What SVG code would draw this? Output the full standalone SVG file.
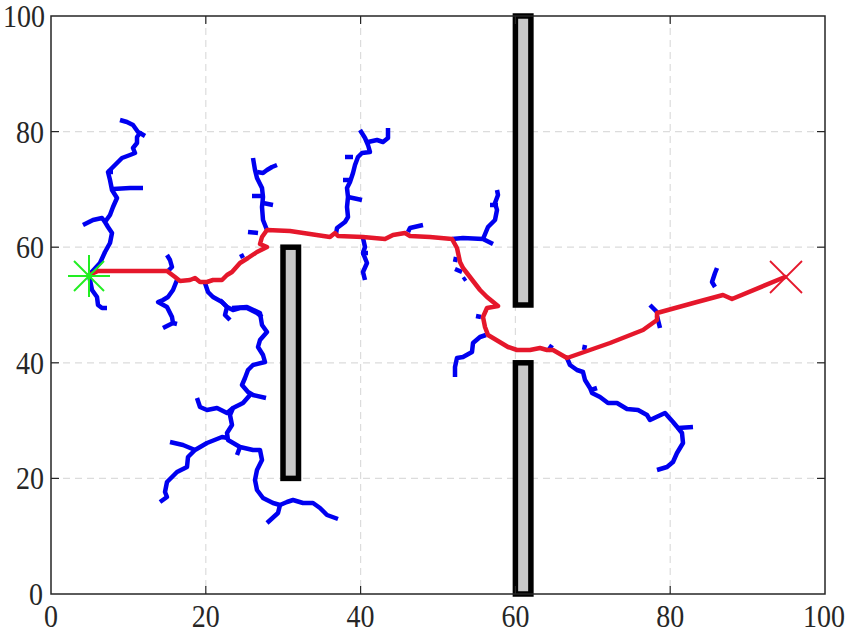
<svg xmlns="http://www.w3.org/2000/svg" width="846" height="633" viewBox="0 0 846 633">
<style>
.grid{stroke:#dcdcdc;stroke-width:1.2;stroke-dasharray:7,5;fill:none}
.ax{stroke:#262626;stroke-width:1.5;fill:none}
.tk{stroke:#262626;stroke-width:1.2}
.obs{fill:#c8c8c8;stroke:#000;stroke-width:5.5}
.tree{fill:none;stroke:#0000f0;stroke-width:4.5;stroke-linejoin:round;stroke-linecap:butt}
.path{fill:none;stroke:#e5172b;stroke-width:4.5;stroke-linejoin:round;stroke-linecap:round}
text{font-family:'Liberation Serif','Times New Roman',serif;font-size:28px;fill:#262626}
</style>
<rect width="846" height="633" fill="#fff"/>
<g id="grid">
<line class="grid" x1="205.8" y1="16" x2="205.8" y2="594"/>
<line class="grid" x1="360.6" y1="16" x2="360.6" y2="594"/>
<line class="grid" x1="515.4" y1="16" x2="515.4" y2="594"/>
<line class="grid" x1="670.2" y1="16" x2="670.2" y2="594"/>
<line class="grid" x1="51" y1="478.4" x2="825" y2="478.4"/>
<line class="grid" x1="51" y1="362.8" x2="825" y2="362.8"/>
<line class="grid" x1="51" y1="247.2" x2="825" y2="247.2"/>
<line class="grid" x1="51" y1="131.6" x2="825" y2="131.6"/>
</g>
<g id="tree">
<polyline class="tree" points="89,275 100,263 105,252 110,243 112,233 108,227 105,222 110,215 113,207 117,198 112,190 110,180 108,172 115,165 122,158 130,155 135,153 133,148 137,143 137,137 140,133 138,132 133,125 127,122 120,120"/>
<polyline class="tree" points="140,133 145,136"/>
<polyline class="tree" points="83,225 93,220 102,218 105,222"/>
<polyline class="tree" points="113,189 130,188 143,188"/>
<polyline class="tree" points="107,172 113,172"/>
<polyline class="tree" points="89,275 90,280 92,290 97,297 98,305 102,308 107,308"/>
<polyline class="tree" points="167,255 170,260 172,267 168,271"/>
<polyline class="tree" points="177,280 173,290 168,297 163,300 158,302 167,307 172,317 173,323 163,328"/>
<polyline class="tree" points="173,323 177,324"/>
<polyline class="tree" points="205,283 208,292 213,297 222,302 227,307 233,310 240,308 247,308 257,313 262,317"/>
<polyline class="tree" points="220,300 227,307 225,315 230,320"/>
<polyline class="tree" points="232,308 247,307 260,313 262,325 267,332 260,340 258,347 263,355 265,362 253,365 248,370 245,378 242,385 248,392 253,395 266,398"/>
<polyline class="tree" points="250,395 243,403 233,408 230,415 232,425 227,433 228,440 240,447 253,450 260,450 262,460 257,470 255,480 257,490 263,498 273,503 280,505 287,502 293,500 303,503 313,503 320,508 327,515 338,519"/>
<polyline class="tree" points="280,505 278,513 267,523"/>
<polyline class="tree" points="228,438 222,437 207,443 195,450 188,457 187,467 177,472 167,482 165,492 167,497 160,502"/>
<polyline class="tree" points="170,442 183,445 195,450"/>
<polyline class="tree" points="197,398 200,407 207,410 217,408 227,413 233,408"/>
<polyline class="tree" points="237,455 240,447"/>
<polyline class="tree" points="267,230 263,220 262,207 263,197 262,188 257,178 255,170 253,158"/>
<polyline class="tree" points="257,172 263,173 267,170 272,167 277,165"/>
<polyline class="tree" points="252,196 263,196"/>
<polyline class="tree" points="263,203 273,205"/>
<polyline class="tree" points="248,232 258,233"/>
<polyline class="tree" points="240,257 244,255"/>
<polyline class="tree" points="336,234 337,228 345,222 348,217 347,207 348,197 347,188 350,182 353,173 355,165 358,157 362,153 370,152 368,145 365,138 360,130"/>
<polyline class="tree" points="368,142 377,140 383,142 388,138 388,128"/>
<polyline class="tree" points="345,157 353,157"/>
<polyline class="tree" points="343,180 352,180"/>
<polyline class="tree" points="348,197 362,200"/>
<polyline class="tree" points="363,238 365,247 363,253 367,263 363,272 365,280"/>
<polyline class="tree" points="361,253 368,253"/>
<polyline class="tree" points="408,232 410,228 423,225"/>
<polyline class="tree" points="452,239 463,238 483,239 493,244"/>
<polyline class="tree" points="483,239 488,227 495,220 497,210 495,203 498,195 497,190"/>
<polyline class="tree" points="490,205 498,205"/>
<polyline class="tree" points="456,257 455,262"/>
<polyline class="tree" points="455,269 462,272"/>
<polyline class="tree" points="463,280 466,278"/>
<polyline class="tree" points="486,335 480,337 473,343 472,352 463,357 457,358 455,367 455,377"/>
<polyline class="tree" points="476,316 481,317"/>
<polyline class="tree" points="567,358 570,365 577,370 583,372 585,380 590,388 592,393 600,397 608,403 617,403 627,409 638,410 647,415 650,420 665,413 673,422 678,428 693,427"/>
<polyline class="tree" points="678,428 682,433 683,443 677,453 673,462 667,467 657,470"/>
<polyline class="tree" points="591,390 597,388"/>
<polyline class="tree" points="548,351 552,345"/>
<polyline class="tree" points="584,350 585,345"/>
<polyline class="tree" points="715,287 712,282 715,273 717,268"/>
<polyline class="tree" points="650,305 657,312"/>
<polyline class="tree" points="657,316 660,328"/>
</g>
<g id="path">
<polyline class="path" points="89,275 98,271 167,271 175,277 180,281 190,280 195,278 200,282 207,282 213,280 222,280 227,275 232,272 240,263 248,258 257,252 267,247 260,244 262,237 267,230 290,231 330,237 335,233 338,236 363,237 385,239 393,235 405,233 410,236 430,237 452,239 457,248 460,262 463,268 480,290 487,297 498,306 487,308 483,317 485,327 488,335 508,347 517,350 530,350 540,348 547,350 553,350 567,358 610,343 643,330 657,320 657,313 697,302 723,295 732,299 785,277"/>
</g>
<g id="obstacles">
<rect id="obs1" class="obs" x="283" y="247.2" width="15.5" height="231.2"/>
<rect id="obs2" class="obs" x="515.4" y="16" width="15.5" height="289"/>
<rect id="obs3" class="obs" x="515.4" y="362.8" width="15.5" height="231.2"/>
</g>
<g id="start">
<g stroke="#22ee22" stroke-width="2">
<line x1="68" y1="276" x2="110" y2="276"/>
<line x1="89" y1="255" x2="89" y2="297"/>
<line x1="74" y1="261" x2="104" y2="291"/>
<line x1="74" y1="291" x2="104" y2="261"/>
</g>
</g>
<g id="goal">
<g stroke="#e5172b" stroke-width="1.8">
<line x1="770" y1="261" x2="802" y2="293"/>
<line x1="770" y1="293" x2="802" y2="261"/>
</g>
</g>
<g id="axes">
<rect class="ax" x="51" y="16" width="774" height="578"/>
<g class="tk">
<line x1="205.8" y1="594" x2="205.8" y2="586"/><line x1="360.6" y1="594" x2="360.6" y2="586"/><line x1="515.4" y1="594" x2="515.4" y2="586"/><line x1="670.2" y1="594" x2="670.2" y2="586"/>
<line x1="205.8" y1="16" x2="205.8" y2="24"/><line x1="360.6" y1="16" x2="360.6" y2="24"/><line x1="515.4" y1="16" x2="515.4" y2="24"/><line x1="670.2" y1="16" x2="670.2" y2="24"/>
<line x1="51" y1="478.4" x2="59" y2="478.4"/><line x1="51" y1="362.8" x2="59" y2="362.8"/><line x1="51" y1="247.2" x2="59" y2="247.2"/><line x1="51" y1="131.6" x2="59" y2="131.6"/>
<line x1="825" y1="478.4" x2="817" y2="478.4"/><line x1="825" y1="362.8" x2="817" y2="362.8"/><line x1="825" y1="247.2" x2="817" y2="247.2"/><line x1="825" y1="131.6" x2="817" y2="131.6"/>
</g>
<g text-anchor="middle">
<text transform="translate(51,626.5) scale(1,1.1)">0</text>
<text transform="translate(205.8,626.5) scale(1,1.1)">20</text>
<text transform="translate(360.6,626.5) scale(1,1.1)">40</text>
<text transform="translate(515.4,626.5) scale(1,1.1)">60</text>
<text transform="translate(670.2,626.5) scale(1,1.1)">80</text>
<text transform="translate(824,626.5) scale(1,1.1)">100</text>
</g>
<g text-anchor="end">
<text transform="translate(43,604.5) scale(1,1.1)">0</text>
<text transform="translate(44,489) scale(1,1.1)">20</text>
<text transform="translate(44,373.5) scale(1,1.1)">40</text>
<text transform="translate(44,258) scale(1,1.1)">60</text>
<text transform="translate(44,143) scale(1,1.1)">80</text>
<text transform="translate(45,27) scale(1,1.1)">100</text>
</g>
</g>
</svg>
